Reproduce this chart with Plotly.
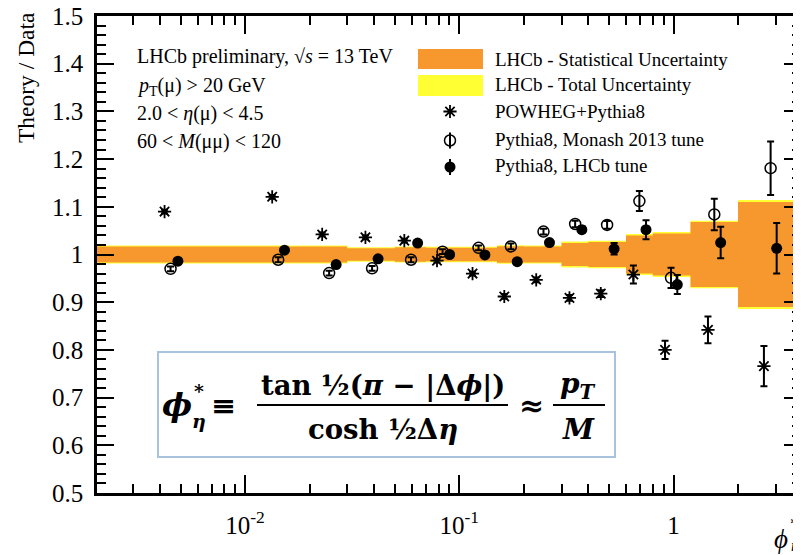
import plotly.graph_objects as go

# ---------------- data ----------------
bin_edges = [0.0, 0.01, 0.02, 0.03, 0.05, 0.07, 0.10, 0.15, 0.20, 0.30, 0.40, 0.60, 0.80, 1.20, 2.00, 4.00]
stat_unc = [0.017, 0.017, 0.017, 0.013, 0.015, 0.014, 0.014, 0.0175, 0.017, 0.024, 0.026, 0.040, 0.044, 0.068, 0.110]
tot_unc = [0.019, 0.019, 0.019, 0.015, 0.017, 0.016, 0.016, 0.0195, 0.019, 0.027, 0.029, 0.043, 0.047, 0.071, 0.114]

powheg_x = [0.00421, 0.01339, 0.02291, 0.03647, 0.05539, 0.0787, 0.1153, 0.1622, 0.2286, 0.3268, 0.4576, 0.6496, 0.9128, 1.448, 2.642]
powheg_y = [1.090, 1.121, 1.042, 1.036, 1.029, 0.987, 0.960, 0.912, 0.947, 0.909, 0.918, 0.958, 0.800, 0.842, 0.766]
powheg_e = [0.004, 0.004, 0.004, 0.004, 0.004, 0.004, 0.004, 0.005, 0.005, 0.006, 0.007, 0.019, 0.019, 0.028, 0.042]

monash_x = [0.00449, 0.01428, 0.02469, 0.03917, 0.05953, 0.08357, 0.1230, 0.1742, 0.2472, 0.3474, 0.4897, 0.6928, 0.9735, 1.550, 2.839]
monash_y = [0.970, 0.989, 0.961, 0.971, 0.989, 1.006, 1.014, 1.017, 1.048, 1.064, 1.062, 1.112, 0.951, 1.084, 1.181]
monash_e = [0.005, 0.005, 0.005, 0.005, 0.005, 0.005, 0.005, 0.006, 0.006, 0.007, 0.008, 0.021, 0.021, 0.033, 0.056]

lhcbtune_x = [0.00486, 0.01528, 0.02662, 0.04178, 0.06392, 0.0901, 0.1317, 0.1864, 0.2636, 0.3733, 0.5281, 0.7441, 1.0416, 1.660, 3.03]
lhcbtune_y = [0.986, 1.009, 0.979, 0.991, 1.024, 1.000, 0.999, 0.985, 1.025, 1.052, 1.012, 1.052, 0.937, 1.025, 1.013]
lhcbtune_e = [0.004, 0.004, 0.004, 0.004, 0.004, 0.004, 0.004, 0.005, 0.005, 0.007, 0.012, 0.020, 0.020, 0.033, 0.053]

y_tickvals = [0.5, 0.6, 0.7, 0.8, 0.9, 1.0, 1.1, 1.2, 1.3, 1.4, 1.5]
y_ticktext = ["0.5", "0.6", "0.7", "0.8", "0.9", "1", "1.1", "1.2", "1.3", "1.4", "1.5"]
x_tickvals = [0.01, 0.1, 1]
x_ticktext = ["10<sup>-2</sup>", "10<sup>-1</sup>", "1"]

legend_labels = ["LHCb - Statistical Uncertainty", "LHCb - Total Uncertainty",
                 "POWHEG+Pythia8", "Pythia8, Monash 2013 tune", "Pythia8, LHCb tune"]
info_lines = ["LHCb preliminary, √<i>s</i> = 13 TeV",
              "<i>p</i><sub>T</sub>(μ) > 20 GeV",
              "2.0 < <i>η</i>(μ) < 4.5",
              "60 < <i>M</i>(μμ) < 120"]

# ---------------- styling ----------------
ORANGE = "#F7982F"
YELLOW = "#FFFF33"
FONT = "Liberation Serif"
MATHFONT = "DejaVu Serif"
OFF = 8  # page body margin of the html page
W, H = 801 - OFF, 555 - OFF
ML, MR, MT, MB = 97 - OFF, 0, 16 - OFF, 62
PW, PH = W - ML - MR, H - MT - MB


# helpers: screen pixel -> paper coordinates
def px(x):
    return (x - OFF - ML) / PW


def py(y):
    return (H - MB - (y - OFF)) / PH


edges_plot = [max(e, 1e-3) for e in bin_edges]

fig = go.Figure()


def band(unc, color):
    up = [1 + u for u in unc] + [1 + unc[-1]]
    lo = [1 - u for u in unc] + [1 - unc[-1]]
    fig.add_trace(go.Scatter(x=edges_plot, y=up, mode="lines", line=dict(width=0, shape="hv"),
                             hoverinfo="skip", showlegend=False))
    fig.add_trace(go.Scatter(x=edges_plot, y=lo, mode="lines", line=dict(width=0, shape="hv"),
                             fill="tonexty", fillcolor=color, hoverinfo="skip", showlegend=False))


band(tot_unc, YELLOW)
band(stat_unc, ORANGE)

err_style = dict(type="data", color="black", thickness=2, width=3.5)

fig.add_trace(go.Scatter(x=powheg_x, y=powheg_y, mode="markers",
                         error_y=dict(array=powheg_e, **err_style),
                         marker=dict(symbol="asterisk-open", size=11, color="black", line=dict(width=1.8, color="black")),
                         showlegend=False))
fig.add_trace(go.Scatter(x=monash_x, y=monash_y, mode="markers",
                         error_y=dict(array=monash_e, **err_style),
                         marker=dict(symbol="circle-open", size=11, color="black", line=dict(width=1.5, color="black")),
                         showlegend=False))
fig.add_trace(go.Scatter(x=lhcbtune_x, y=lhcbtune_y, mode="markers",
                         error_y=dict(array=lhcbtune_e, **err_style),
                         marker=dict(symbol="circle", size=11, color="black"),
                         showlegend=False))

# ---- legend markers on an overlay axis in [0,1] ----
leg_x = px(450)
leg_err = dict(type="constant", value=8 / PH, color="black", thickness=2, width=0)
fig.add_trace(go.Scatter(x=[leg_x], y=[py(111.5)], xaxis="x2", yaxis="y2", mode="markers",
                         marker=dict(symbol="asterisk-open", size=11, color="black", line=dict(width=1.8, color="black")),
                         showlegend=False, hoverinfo="skip"))
fig.add_trace(go.Scatter(x=[leg_x], y=[py(140.5)], xaxis="x2", yaxis="y2", mode="markers",
                         error_y=leg_err,
                         marker=dict(symbol="circle-open", size=11, color="black", line=dict(width=1.5, color="black")),
                         showlegend=False, hoverinfo="skip"))
fig.add_trace(go.Scatter(x=[leg_x], y=[py(167)], xaxis="x2", yaxis="y2", mode="markers",
                         error_y=leg_err,
                         marker=dict(symbol="circle", size=11, color="black"),
                         showlegend=False, hoverinfo="skip"))

shapes = []
shapes.append(dict(type="rect", xref="paper", yref="paper", x0=px(418), x1=px(483), y0=py(69), y1=py(49),
                   fillcolor=ORANGE, line=dict(width=0)))
shapes.append(dict(type="rect", xref="paper", yref="paper", x0=px(418), x1=px(483), y0=py(96), y1=py(75),
                   fillcolor=YELLOW, line=dict(width=0)))
# formula box
shapes.append(dict(type="rect", xref="paper", yref="paper", x0=px(158), x1=px(615), y0=py(457), y1=py(352),
                   fillcolor="white", line=dict(color="#A9C3DF", width=2), layer="above"))
shapes.append(dict(type="line", xref="paper", yref="paper", x0=px(257), x1=px(508), y0=py(405), y1=py(405),
                   line=dict(color="black", width=2)))
shapes.append(dict(type="line", xref="paper", yref="paper", x0=px(553), x1=px(605), y0=py(405), y1=py(405),
                   line=dict(color="black", width=2)))

ann = []


def text(x, y, s, size, xanchor="left", yanchor="middle", angle=0, family=FONT):
    ann.append(dict(x=px(x), y=py(y), xref="paper", yref="paper", text=s, showarrow=False,
                    xanchor=xanchor, yanchor=yanchor, textangle=angle,
                    font=dict(family=family, size=size, color="black")))


legend_y = [59, 85, 111, 139, 165]
for lab, yy in zip(legend_labels, legend_y):
    text(493, yy, lab, 19)

info_y = [56, 86, 113, 141]
for lab, yy in zip(info_lines, info_y):
    text(135, yy, lab, 20)

# formula
text(177, 405, "<b><i>ϕ</i></b>", 32, xanchor="center", family=MATHFONT)
text(199, 391, "<b>*</b>", 19, xanchor="center", family=MATHFONT)
text(199, 421, "<b><i>η</i></b>", 19, xanchor="center", family=MATHFONT)
text(223, 405, "<b>≡</b>", 30, xanchor="center", family=MATHFONT)
text(383, 385, "<b>tan ½(<i>π</i> − |Δ<i>ϕ</i>|)</b>", 27.5, xanchor="center", family=MATHFONT)
text(383, 429, "<b>cosh ½Δ<i>η</i></b>", 27.5, xanchor="center", family=MATHFONT)
text(531, 405, "<b>≈</b>", 30, xanchor="center", family=MATHFONT)
text(578, 385, "<b><i>p</i><sub><i>T</i></sub></b>", 28, xanchor="center", family=MATHFONT)
text(578, 429, "<b><i>M</i></b>", 28, xanchor="center", family=MATHFONT)

# axis titles
text(26, 78, "Theory / Data", 23.5, xanchor="center", angle=-90)
text(781, 539, "<i>ϕ</i>", 27, xanchor="center")
text(794, 523, "*", 17, xanchor="center")
text(795, 546, "<i>η</i>", 16, xanchor="center")

x_minor = []
for dec in [0.001, 0.01, 0.1, 1]:
    for k in range(2, 10):
        x_minor.append(dec * k)

fig.update_layout(
    width=W, height=H,
    margin=dict(l=ML, r=MR, t=MT, b=MB),
    plot_bgcolor="white", paper_bgcolor="white",
    showlegend=False,
    shapes=shapes, annotations=ann,
    xaxis=dict(type="log", range=[-2.691, 0.595], tickmode="array", tickvals=x_tickvals, ticktext=x_ticktext,
               ticks="inside", ticklen=18, tickwidth=2, tickcolor="black", automargin=False,
               showline=True, linewidth=2.5, linecolor="black", mirror="ticks",
               showgrid=False, zeroline=False, ticklabelstandoff=8, ticklabeloverflow="allow",
               tickfont=dict(family=FONT, size=25, color="black"),
               minor=dict(tickmode="array", tickvals=x_minor, ticks="inside", ticklen=9, tickwidth=2,
                          tickcolor="black", showgrid=False)),
    yaxis=dict(range=[0.5, 1.5], tickmode="array", tickvals=y_tickvals, ticktext=y_ticktext,
               ticks="inside", ticklen=17, tickwidth=2, tickcolor="black", automargin=False,
               showline=True, linewidth=2.5, linecolor="black", mirror="ticks",
               showgrid=False, zeroline=False, ticklabelstandoff=6, ticklabeloverflow="allow",
               tickfont=dict(family=FONT, size=25, color="black"),
               minor=dict(dtick=0.02, ticks="inside", ticklen=9, tickwidth=2, tickcolor="black", showgrid=False)),
    xaxis2=dict(overlaying="x", range=[0, 1], visible=False, fixedrange=True, automargin=False),
    yaxis2=dict(overlaying="y", range=[0, 1], visible=False, fixedrange=True, automargin=False),
)

fig.write_html("out.html")
